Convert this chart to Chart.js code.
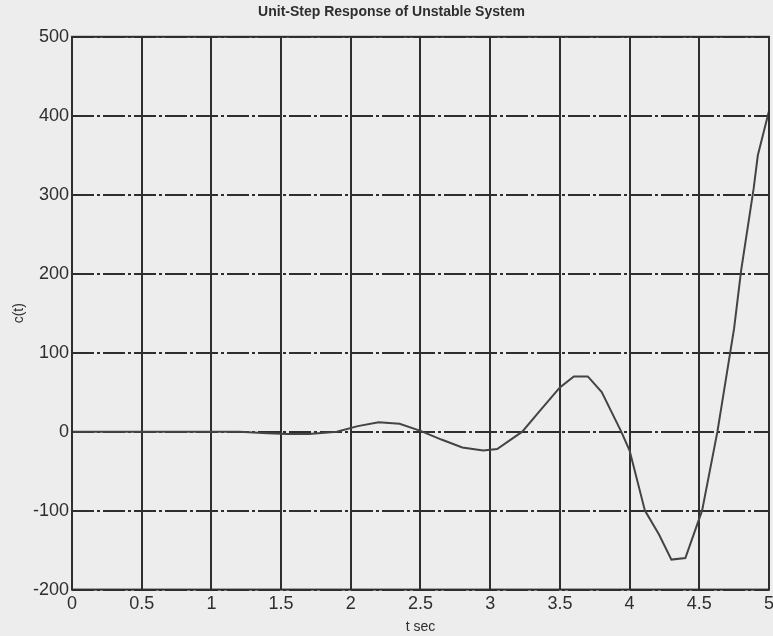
<!DOCTYPE html>
<html lang="en">
<head>
  <meta charset="UTF-8">
  <title>Unit-Step Response of Unstable System</title>
  <script src="https://cdn.jsdelivr.net/npm/chart.js@4.4.1/dist/chart.umd.min.js"></script>
</head>
<body style="margin:0;background:#ededed;overflow:hidden">
  <canvas id="myChart" width="778" height="636"></canvas>
  <script>
    // t (sec) and c(t)
    const tValues = [0, 0.5, 1, 1.2, 1.4, 1.55, 1.7, 1.9, 2.05, 2.2, 2.35, 2.5, 2.65, 2.8, 2.95, 3.05, 3.23, 3.35, 3.5, 3.6, 3.7, 3.8, 3.94, 4.0, 4.11, 4.21, 4.3, 4.4, 4.52, 4.63, 4.75, 4.8, 4.89, 4.92, 5.0];
    const cValues = [0, 0, 0, 0, -2, -3, -3, 0, 7, 12, 10, 1, -10, -20, -24, -22, 0, 25, 56, 70, 70, 50, 0, -24, -100, -130, -162, -160, -100, 0, 131, 204, 308, 350, 406];
    const xTicks = [0, 0.5, 1, 1.5, 2, 2.5, 3, 3.5, 4, 4.5, 5];
    const yTicks = [-200, -100, 0, 100, 200, 300, 400, 500];

    const ink = '#2e2e2e';
    const family = 'Liberation Sans, Arial, sans-serif';
    const tickFont = { family, size: 18 };

    const boxPlugin = {
      id: 'box',
      afterDraw(chart) {
        const { ctx, chartArea: a } = chart;
        ctx.save();
        ctx.strokeStyle = ink;
        ctx.lineWidth = 2;
        ctx.strokeRect(a.left, a.top, a.right - a.left, a.bottom - a.top);
        ctx.restore();
      }
    };

    new Chart(document.getElementById('myChart'), {
      type: 'line',
      data: {
        datasets: [{
          data: tValues.map((t, i) => ({ x: t, y: cValues[i] })),
          borderColor: '#444',
          borderWidth: 2,
          pointRadius: 0,
          tension: 0
        }]
      },
      options: {
        responsive: false,
        animation: false,
        layout: { padding: { top: 0, right: 0, left: 5, bottom: 0 } },
        plugins: {
          legend: { display: false },
          tooltip: { enabled: false },
          title: {
            display: true,
            text: 'Unit-Step Response of Unstable System',
            color: ink,
            font: { family, size: 14, weight: 'bold' },
            padding: { top: 4, bottom: 16 }
          }
        },
        scales: {
          x: {
            type: 'linear',
            min: 0, max: 5,
            afterBuildTicks: s => { s.ticks = xTicks.map(v => ({ value: v })); },
            ticks: { color: ink, font: tickFont, padding: 4, maxRotation: 0, callback: v => String(v) },
            grid: { color: ink, lineWidth: 2, drawTicks: false },
            border: { display: false },
            title: { display: true, text: 't sec', color: ink, font: { family, size: 14 }, padding: { top: 0, bottom: 0 } }
          },
          y: {
            min: -200, max: 500,
            afterBuildTicks: s => { s.ticks = yTicks.map(v => ({ value: v })); },
            afterFit: s => { s.width = 67; },
            ticks: { color: ink, font: tickFont, padding: 3 },
            grid: { color: ink, lineWidth: 2, drawTicks: false },
            border: { display: false, dash: [22, 3, 3, 3] },
            title: { display: true, text: 'c(t)', color: ink, font: { family, size: 14 }, padding: 6 }
          }
        }
      },
      plugins: [boxPlugin]
    });
  </script>
</body>
</html>
